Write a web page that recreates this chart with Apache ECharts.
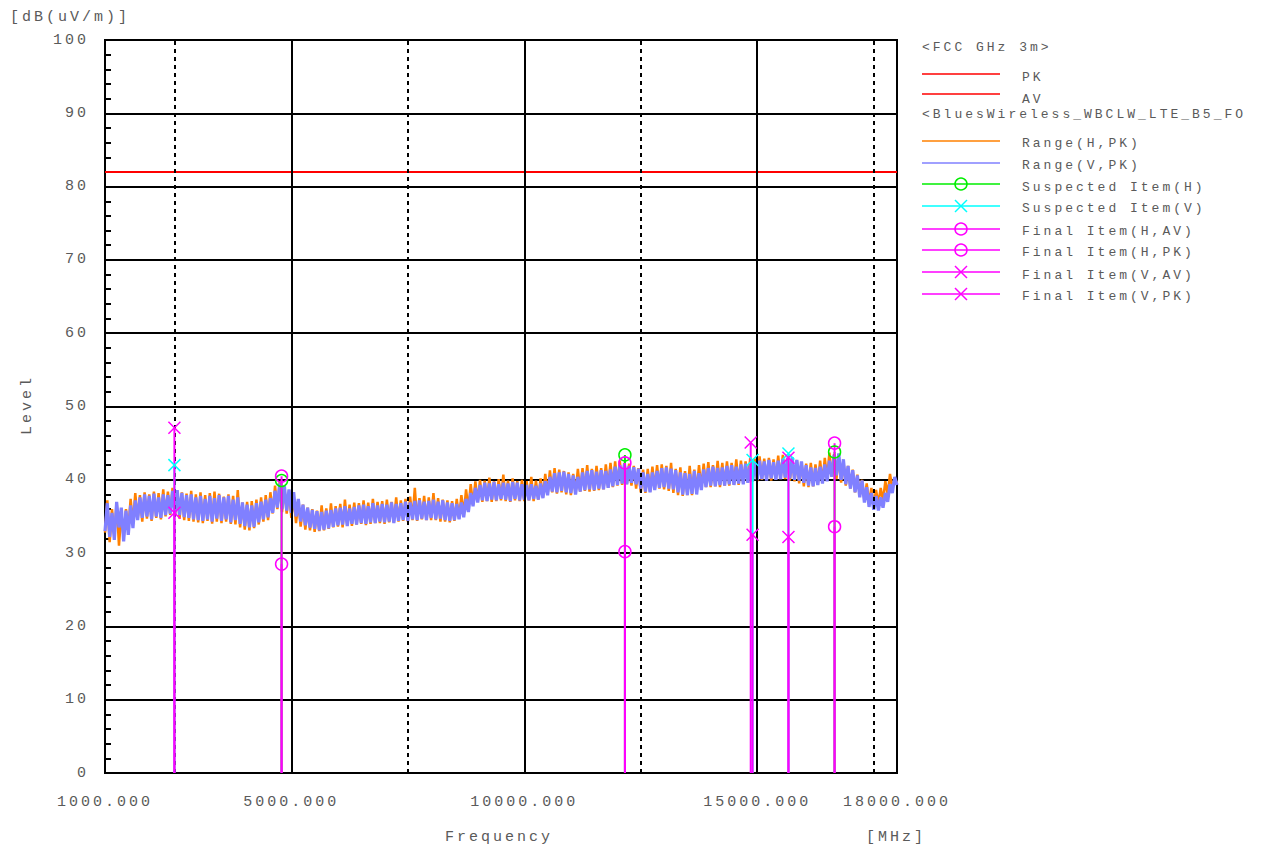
<!DOCTYPE html>
<html><head><meta charset="utf-8">
<script src="https://cdn.jsdelivr.net/npm/echarts@6/dist/echarts.min.js"></script>
<style>
html,body{margin:0;padding:0;background:#fff;}
#c{width:1268px;height:850px;}
#c svg text{letter-spacing:3px;}
</style></head><body><div id="c"></div>
<script>
// ---- sweep (measured trace) ----
const sweepStart = 1000;   // MHz
const sweepStep = 50;      // MHz
const rangeH = [
32.8,37.2,31.5,36.0,32.4,36.9,31.0,35.5,32.0,
36.0,33.2,37.4,34.0,38.2,34.6,37.9,34.3,38.3,34.7,
38.0,34.4,38.4,34.8,38.2,34.6,38.7,35.0,38.4,35.2,
38.9,35.0,38.6,34.7,38.3,34.5,38.1,34.4,38.5,34.3,
38.0,34.2,38.3,34.1,37.9,34.4,38.2,34.0,38.4,34.3,
38.1,34.1,37.7,34.3,38.0,34.0,37.8,33.9,38.6,33.5,
36.9,33.2,37.0,33.1,37.1,33.4,37.3,33.9,37.6,34.3,
37.9,34.5,38.3,35.4,39.2,36.0,39.8,35.6,39.0,35.4,
38.6,34.8,37.8,34.1,37.0,33.6,36.6,33.2,36.2,33.1,
36.0,32.9,35.8,33.0,36.5,33.1,36.1,33.3,36.8,33.5,
36.4,33.6,36.7,33.5,37.3,33.8,36.6,33.7,36.9,33.9,
36.8,34.0,37.2,33.8,36.9,34.0,37.4,34.1,37.0,34.1,
37.1,34.0,37.3,34.2,37.0,34.2,37.6,34.3,37.2,34.4,
37.4,34.3,37.7,34.5,38.9,34.4,37.5,34.6,37.8,34.5,
37.6,34.5,38.2,34.5,37.5,34.3,37.3,34.3,37.2,34.2,
37.1,34.4,37.4,34.7,37.9,35.3,38.7,36.0,39.4,36.6,
39.8,37.0,40.0,37.0,39.9,37.1,40.3,37.0,39.8,37.1,
40.1,37.2,40.7,37.1,39.9,37.0,40.2,37.2,39.8,37.1,
40.0,37.1,39.8,37.2,40.4,37.1,39.9,37.3,40.2,37.6,
40.8,38.0,41.3,38.3,41.6,38.1,41.4,38.3,41.2,38.0,
41.0,37.9,40.8,38.2,41.5,38.4,41.6,38.5,42.0,38.4,
41.5,38.5,41.9,38.6,41.6,38.7,42.1,38.9,42.3,39.0,
42.5,39.2,42.6,39.3,42.3,39.4,42.2,39.2,41.9,38.8,
41.6,38.3,41.4,38.2,41.5,38.4,41.8,38.7,42.0,38.8,
42.1,38.7,41.9,38.5,42.3,38.2,41.5,37.9,41.7,37.8,
41.2,37.9,41.9,37.9,41.4,38.4,42.0,38.8,42.2,39.0,
42.4,39.0,42.0,39.1,42.6,39.0,42.3,39.2,42.5,39.2,
42.3,39.3,42.8,39.3,42.6,39.5,42.5,39.6,43.0,39.8,
42.9,39.8,43.2,40.0,42.9,40.0,43.0,39.9,42.8,40.0,
43.3,40.1,43.4,40.1,43.0,39.9,42.9,39.8,42.7,39.5,
42.4,39.1,42.2,39.0,42.3,39.1,42.1,39.3,42.6,39.6,
43.0,40.2,43.7,40.4,43.5,40.1,43.2,39.6,42.5,39.2,
41.9,38.8,41.4,38.3,40.7,37.8,40.0,37.2,39.5,36.8,
38.9,36.5,38.6,36.7,38.9,37.2,39.8,38.0,40.8,38.8,
40.2,39.6];
const rangeV = [
33.0,36.8,32.2,35.5,31.8,37.0,33.5,36.2,31.6,35.8,
32.5,36.5,33.4,37.2,34.5,37.6,34.8,38.0,35.0,37.8,
34.6,38.1,35.0,37.6,34.8,38.0,35.2,37.9,35.4,38.5,
35.3,38.6,35.2,38.2,34.9,37.9,34.8,38.0,34.6,37.6,
34.5,37.8,34.4,37.4,34.6,37.8,34.3,37.5,34.7,37.9,
34.4,37.6,34.6,37.8,34.2,37.3,34.5,37.6,34.0,36.9,
33.7,36.6,33.5,36.5,33.6,36.8,34.2,37.0,34.6,37.3,
34.9,37.5,35.5,38.5,36.2,39.5,36.0,39.2,35.8,38.7,
35.5,38.3,35.0,37.4,34.3,36.6,33.8,36.2,33.5,35.9,
33.3,35.7,33.1,35.6,33.2,35.8,33.4,35.9,33.6,36.1,
33.8,36.2,33.9,36.4,33.7,36.1,34.0,36.3,33.9,36.5,
34.1,36.6,34.0,36.4,34.2,36.8,34.1,36.5,34.3,36.7,
34.2,36.6,34.3,36.9,34.1,36.7,34.4,36.8,34.5,37.0,
34.4,36.9,34.6,37.1,34.5,37.2,34.7,37.0,34.5,37.1,
34.8,37.3,34.6,37.0,34.7,37.2,34.5,36.9,34.4,36.8,
34.5,36.7,34.6,36.9,34.9,37.4,35.6,38.2,36.4,38.9,
36.9,39.3,37.2,39.6,37.1,39.5,37.3,39.7,37.2,39.4,
37.4,39.6,37.3,39.5,37.1,39.7,37.4,39.6,37.2,39.4,
37.3,39.3,37.2,39.4,37.4,39.2,37.3,39.5,37.5,39.8,
37.9,40.4,38.4,40.9,38.3,41.0,38.5,41.1,38.3,40.8,
38.2,40.6,38.0,40.4,38.4,41.0,38.6,41.2,38.7,41.3,
38.6,41.1,38.8,41.3,38.7,41.2,38.9,41.4,39.1,41.8,
39.3,42.0,39.5,42.2,39.4,41.9,39.6,41.7,39.4,41.5,
38.8,41.0,38.4,40.8,38.3,41.0,38.6,41.2,38.9,41.6,
39.0,41.7,38.8,41.5,38.7,41.3,38.3,41.0,38.0,40.9,
37.9,40.8,38.1,41.2,38.0,40.9,38.6,41.4,39.0,41.6,
39.2,41.8,39.1,41.6,39.3,41.7,39.2,41.9,39.4,42.0,
39.3,41.8,39.5,42.1,39.4,42.2,39.6,42.0,39.8,42.4,
40.0,42.6,40.1,42.5,39.9,42.7,40.2,42.4,40.0,42.6,
40.1,42.8,40.3,43.0,40.2,43.1,40.0,42.7,39.9,42.5,
39.6,42.0,39.2,41.7,39.1,41.6,39.3,41.8,39.5,42.1,
39.8,42.6,40.4,43.4,40.6,43.6,40.0,42.8,39.4,41.9,
38.8,41.3,38.3,40.6,37.6,39.9,36.9,39.0,36.3,38.2,
35.9,37.8,35.8,37.6,36.2,38.2,37.0,39.4,38.2,40.4,
39.3];

// ---- limits ----
const limitFreq = [1000, 18000];
const limitPK = [82, 82];
const limitAV = [82, 82];

// ---- items [MHz, dB(uV/m)] ----
const suspectedH = [[4790, 39.9], [12160, 43.4], [16660, 43.8]];
const suspectedV = [[2490, 42.0], [14900, 42.7], [15670, 43.6]];
const finalHAV   = [[4790, 28.5], [12160, 30.2], [16660, 33.6]];
const finalHPK   = [[4790, 40.5], [12160, 42.3], [16660, 45.0]];
const finalVAV   = [[2490, 35.5], [14900, 32.5], [15670, 32.2]];
const finalVPK   = [[2490, 47.1], [14860, 45.1], [15670, 43.0]];

// ---- axes ----
const xTickLabels = [1000, 5000, 10000, 15000, 18000];
const xMajorGrid = [5000, 10000, 15000];
const xMinorGrid = [2500, 7500, 12500, 17500];

const FONT = '"Liberation Mono","DejaVu Sans Mono",monospace';
const TXT = '#5a5a5a';
const C_H = '#ff8000', C_V = '#8080ff', C_RED = '#ff0000';
const C_SH = '#00ee00', C_SV = '#00ffff', C_F = '#ff00ff';
const CROSS = 'path://M0,0L10,10M10,0L0,10';

function sweep(vals){ return vals.map((v,i)=>[sweepStart + i*sweepStep, v]); }
function pair(fs, vs){ return fs.map((f,i)=>[f, vs[i]]); }
function stem(color){
  return function(params, api){
    const x = api.value(0), y = api.value(1);
    const a = api.coord([x, 0]), b = api.coord([x, y]);
    return {type:'line', shape:{x1:a[0],y1:a[1],x2:b[0],y2:b[1]}, style:{stroke:color, lineWidth:2}};
  };
}
function stemSeries(name, data, color, z){
  return {type:'custom', name, data, renderItem: stem(color), z, silent:true, animation:false};
}
function markSeries(name, data, color, shape, z){
  const isCross = shape === 'cross';
  return {type:'scatter', name, data, z, silent:true, animation:false,
    symbol: isCross ? CROSS : 'circle', symbolSize: 12,
    itemStyle:{color:'transparent', borderColor:color, borderWidth:1.5, opacity:1}};
}

const chart = echarts.init(document.getElementById('c'), null, {renderer:'svg'});

// legend graphics
const legendItems = [
  {t:'PK', c:C_RED, y:74, ty:77},
  {t:'AV', c:C_RED, y:94, ty:99},
  {t:'Range(H,PK)', c:C_H, y:141, ty:143},
  {t:'Range(V,PK)', c:C_V, y:163, ty:165},
  {t:'Suspected Item(H)', c:C_SH, y:184, ty:187, m:'o'},
  {t:'Suspected Item(V)', c:C_SV, y:206, ty:208, m:'x'},
  {t:'Final Item(H,AV)', c:C_F, y:229, ty:231, m:'o'},
  {t:'Final Item(H,PK)', c:C_F, y:250, ty:252, m:'o'},
  {t:'Final Item(V,AV)', c:C_F, y:272, ty:275, m:'x'},
  {t:'Final Item(V,PK)', c:C_F, y:294, ty:296, m:'x'}
];
const graphics = [];
function gtext(x, y, text){
  graphics.push({type:'text', x, y, silent:true,
    style:{text, fill:TXT, font:'15px '+FONT, textAlign:'left', verticalAlign:'middle'}});
}
gtext(10, 17, '[dB(uV/m)]');
gtext(445, 837, 'Frequency');
gtext(866, 837, '[MHz]');
graphics.push({type:'text', x:27, y:405, rotation:Math.PI/2, silent:true,
  style:{text:'Level', fill:TXT, font:'15px '+FONT, textAlign:'center', verticalAlign:'middle'}});
graphics.push({type:'text', x:922, y:47, silent:true,
  style:{text:'<FCC GHz 3m>', fill:TXT, font:'13px '+FONT, verticalAlign:'middle'}});
graphics.push({type:'text', x:922, y:114, silent:true,
  style:{text:'<BluesWireless_WBCLW_LTE_B5_FO', fill:TXT, font:'13px '+FONT, verticalAlign:'middle'}});
legendItems.forEach(it=>{
  graphics.push({type:'line', silent:true, shape:{x1:922,y1:it.y,x2:1000,y2:it.y}, style:{stroke:it.c, lineWidth:1.5}});
  if(it.m==='o'){
    graphics.push({type:'circle', silent:true, shape:{cx:961, cy:it.y, r:6}, style:{fill:'none', stroke:it.c, lineWidth:1.5}});
  } else if(it.m==='x'){
    graphics.push({type:'line', silent:true, shape:{x1:955,y1:it.y-6,x2:967,y2:it.y+6}, style:{stroke:it.c, lineWidth:1.5}});
    graphics.push({type:'line', silent:true, shape:{x1:955,y1:it.y+6,x2:967,y2:it.y-6}, style:{stroke:it.c, lineWidth:1.5}});
  }
  graphics.push({type:'text', x:1022, y:it.ty, silent:true,
    style:{text:it.t, fill:TXT, font:'13px '+FONT, verticalAlign:'middle'}});
});

const gridLines = xMajorGrid.map(v=>({xAxis:v, lineStyle:{type:'solid', color:'#000', width:2}}))
  .concat(xMinorGrid.map(v=>({xAxis:v, lineStyle:{type:[4,4], color:'#000', width:2}})));

chart.setOption({
  animation:false,
  backgroundColor:'#fff',
  grid:{left:105, top:40, right:371, bottom:77, show:true, borderColor:'#000', borderWidth:2, backgroundColor:'transparent'},
  xAxis:{type:'value', min:1000, max:18000,
    axisLine:{show:true, lineStyle:{color:'#000', width:2}},
    axisTick:{show:false},
    splitLine:{show:false},
    axisLabel:{customValues:xTickLabels, formatter:v=>Number(v).toFixed(3), color:TXT,
      fontFamily:FONT, fontSize:15, margin:22, showMinLabel:true, showMaxLabel:true}},
  yAxis:{type:'value', min:0, max:100, interval:10,
    axisLine:{show:true, lineStyle:{color:'#000', width:2}},
    axisTick:{show:true, inside:true, length:6, lineStyle:{color:'#000', width:2}},
    minorTick:{show:true, splitNumber:5, length:6, lineStyle:{color:'#000', width:2}},
    splitLine:{show:true, lineStyle:{color:'#000', width:2}},
    axisLabel:{color:TXT, fontFamily:FONT, fontSize:15, margin:16}},
  graphic: graphics,
  series:[
    {type:'line', name:'grid', data:[], silent:true, z:1,
      markLine:{symbol:'none', silent:true, animation:false, label:{show:false}, data:gridLines}},
    {type:'line', name:'PK', data:pair(limitFreq, limitPK), showSymbol:false, silent:true, z:2,
      lineStyle:{color:C_RED, width:2}},
    {type:'line', name:'AV', data:pair(limitFreq, limitAV), showSymbol:false, silent:true, z:2,
      lineStyle:{color:C_RED, width:2}},
    {type:'line', name:'Range(H,PK)', data:sweep(rangeH), showSymbol:false, silent:true, z:3,
      lineStyle:{color:C_H, width:2.5, join:'bevel'}},
    {type:'line', name:'Range(V,PK)', data:sweep(rangeV), showSymbol:false, silent:true, z:4,
      lineStyle:{color:C_V, width:3.2, join:'bevel'}},
    stemSeries('Suspected Item(H) stem', suspectedH, C_SH, 5),
    stemSeries('Suspected Item(V) stem', suspectedV, C_SV, 5),
    stemSeries('Final Item(H,PK) stem', finalHPK, C_F, 6),
    stemSeries('Final Item(V,PK) stem', finalVPK, C_F, 6),
    stemSeries('Final Item(H,AV) stem', finalHAV, C_F, 6),
    stemSeries('Final Item(V,AV) stem', finalVAV, C_F, 6),
    markSeries('Suspected Item(H)', suspectedH, C_SH, 'circle', 7),
    markSeries('Suspected Item(V)', suspectedV, C_SV, 'cross', 7),
    markSeries('Final Item(H,AV)', finalHAV, C_F, 'circle', 8),
    markSeries('Final Item(H,PK)', finalHPK, C_F, 'circle', 8),
    markSeries('Final Item(V,AV)', finalVAV, C_F, 'cross', 8),
    markSeries('Final Item(V,PK)', finalVPK, C_F, 'cross', 8)
  ]
});
</script></body></html>
